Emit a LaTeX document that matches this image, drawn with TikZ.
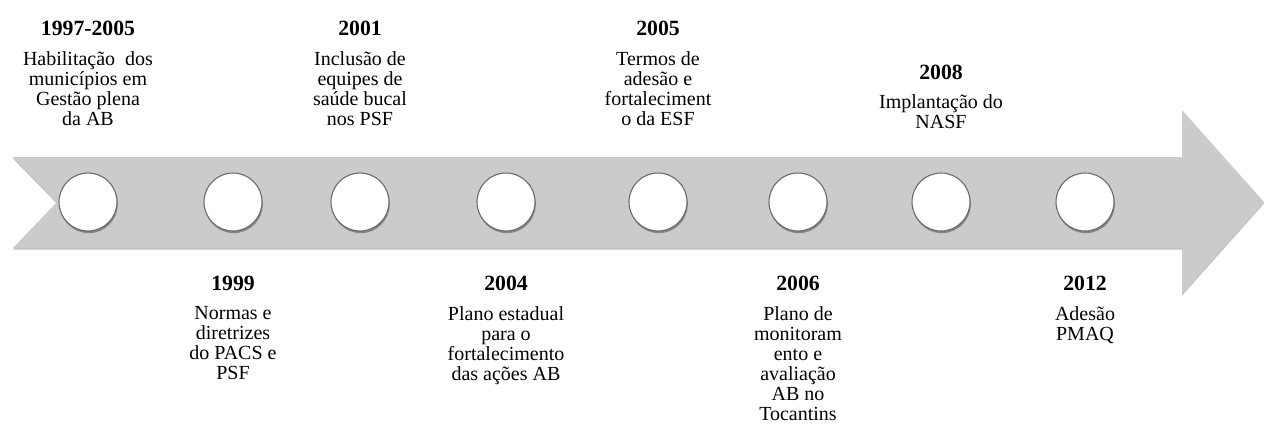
\documentclass[tikz,border=0pt]{standalone}
\usepackage{fontspec}
\setmainfont{Liberation Serif}
\usetikzlibrary{shadows}
\definecolor{bandgray}{RGB}{203,203,203}
\definecolor{ringgray}{RGB}{105,105,105}
\newcommand{\tightlines}{\lineskiplimit=-20pt\relax}
\begin{document}
\begin{tikzpicture}[x=0.75pt,y=-0.75pt,
  dot/.style={circle, fill=white, draw=ringgray, line width=0.8pt,
    minimum size=43.5pt, inner sep=0pt,
    drop shadow={shadow xshift=0.6pt, shadow yshift=-1.6pt, opacity=0.35, fill=black}},
  yrlabel/.style={anchor=center, inner sep=0pt,
    font=\fontsize{16.3}{16}\selectfont\bfseries},
  desc/.style={align=center, anchor=north, inner sep=0pt,
    font=\fontsize{15}{15}\selectfont\tightlines}
]
\useasboundingbox (0,0) rectangle (1264,429);
% band arrow
\fill[bandgray, drop shadow={shadow xshift=0pt, shadow yshift=-1.2pt, opacity=0.25, fill=black}]
  (13,157) -- (1182,157) -- (1182,110) -- (1264,202) -- (1182,294)
  -- (1182,248) -- (13,248) -- (57,202) -- cycle;
% circles
\node[dot] (e1) at (88,202) {};
\node[dot] (e2) at (233,202) {};
\node[dot] (e3) at (360,202) {};
\node[dot] (e4) at (506,202) {};
\node[dot] (e5) at (658,202) {};
\node[dot] (e6) at (798,202) {};
\node[dot] (e7) at (941,202) {};
\node[dot] (e8) at (1085,202) {};
% years
\node[yrlabel] (y1) at (88,28) {1997-2005};
\node[yrlabel] (y2) at (233,283) {1999};
\node[yrlabel] (y3) at (360,28) {2001};
\node[yrlabel] (y4) at (506,283) {2004};
\node[yrlabel] (y5) at (658,28) {2005};
\node[yrlabel] (y6) at (798,283) {2006};
\node[yrlabel] (y7) at (941,72) {2008};
\node[yrlabel] (y8) at (1085,283) {2012};
% descriptions
\node[desc] (d1) at (88,51.5) {Habilitação\ \ dos\\municípios em\\Gestão plena\\da AB};
\node[desc] (d2) at (233,306) {Normas e\\diretrizes\\do PACS e\\PSF};
\node[desc] (d3) at (360,51.5) {Inclusão de\\equipes de\\saúde bucal\\nos PSF};
\node[desc] (d4) at (506,306) {Plano estadual\\para o\\fortalecimento\\das ações AB};
\node[desc] (d5) at (658,51.5) {Termos de\\adesão e\\fortaleciment\\o da ESF};
\node[desc] (d6) at (798,306) {Plano de\\monitoram\\ento e\\avaliação\\AB no\\Tocantins};
\node[desc] (d7) at (941,94.5) {Implantação do\\NASF};
\node[desc] (d8) at (1085,306) {Adesão\\PMAQ};
\end{tikzpicture}
\end{document}
